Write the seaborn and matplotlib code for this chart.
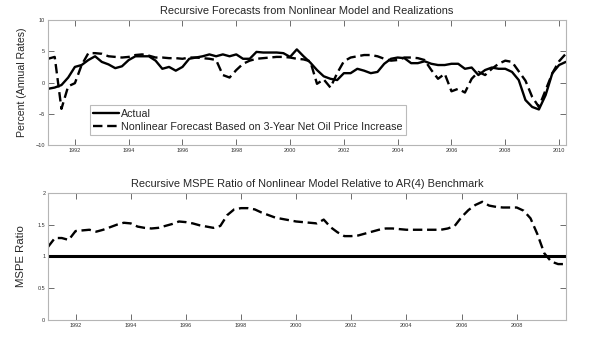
import numpy as np
import pandas as pd
import matplotlib
matplotlib.use("Agg")
import matplotlib.pyplot as plt
import seaborn as sns

# ---- data (quarterly) ----
top_start = 1991.0
actual = [
    -1.0, -0.8, -0.4, 0.8,
    2.5, 2.8, 3.6, 4.2,
    3.3, 2.9, 2.3, 2.6,
    3.6, 4.2, 4.2, 4.2,
    3.5, 2.2, 2.5, 1.9,
    2.5, 3.8, 4.0, 4.2,
    4.5, 4.2, 4.5, 4.2,
    4.5, 3.8, 3.8, 4.9,
    4.8, 4.8, 4.8, 4.7,
    4.1, 5.3, 4.2, 3.2,
    2.0, 1.0, 0.6, 0.4,
    1.5, 1.5, 2.2, 1.9,
    1.5, 1.7, 3.0, 3.8,
    4.0, 3.9, 3.1, 3.1,
    3.4, 3.0, 2.8, 2.8,
    3.0, 3.0, 2.2, 2.4,
    1.2, 2.0, 2.4, 2.2,
    2.2, 1.7, 0.4, -2.8,
    -3.9, -4.3, -2.0, 1.5,
    2.8, 3.3,
]
forecast = [
    3.8, 4.1, -4.2, -0.6,
    -0.1, 2.8, 4.7, 4.7,
    4.6, 4.2, 4.1, 4.0,
    4.1, 4.4, 4.5, 4.3,
    4.0, 4.0, 3.9, 3.9,
    3.8, 4.0, 4.0, 3.9,
    3.8, 3.6, 1.2, 0.8,
    2.0, 3.0, 3.5, 3.8,
    3.9, 4.0, 4.1, 4.1,
    4.0, 3.8, 3.7, 3.4,
    -0.2, 0.5, -0.8, 1.5,
    3.4, 4.0, 4.2, 4.4,
    4.4, 4.2, 3.8, 3.5,
    3.6, 4.0, 4.0, 3.9,
    3.6, 2.0, 0.6, 1.4,
    -1.4, -1.0, -1.6, 0.6,
    1.7, 1.2, 2.2, 3.0,
    3.5, 3.3, 1.8, 0.3,
    -2.3, -3.9, -1.2, 1.5,
    3.4, 4.6,
]
mspe_ratio = [
    1.15, 1.29, 1.29, 1.26,
    1.40, 1.41, 1.42, 1.39,
    1.42, 1.46, 1.50, 1.53,
    1.52, 1.47, 1.45, 1.44,
    1.45, 1.48, 1.51, 1.55,
    1.54, 1.52, 1.49, 1.47,
    1.45, 1.48, 1.65, 1.74,
    1.76, 1.76, 1.74, 1.69,
    1.65, 1.61, 1.59, 1.57,
    1.55, 1.54, 1.53, 1.52,
    1.58, 1.46, 1.38, 1.32,
    1.32, 1.33, 1.36, 1.39,
    1.42, 1.44, 1.44, 1.43,
    1.42, 1.42, 1.42, 1.42,
    1.42, 1.42, 1.44, 1.48,
    1.62, 1.73, 1.81, 1.86,
    1.80, 1.78, 1.77, 1.77,
    1.77, 1.72, 1.60, 1.35,
    1.05, 0.92, 0.88, 0.88,
]
benchmark = 1.0

top_xticks = list(range(1992, 2011, 2))
bot_xticks = list(range(1992, 2009, 2))
top_yticks = [-10, -5, 0, 5, 10]
bot_yticks = [0, 0.5, 1, 1.5, 2]

t_top = top_start + 0.25 * np.arange(len(actual))
t_bot = top_start + 0.25 * np.arange(len(mspe_ratio))

df_top = pd.DataFrame({"t": t_top, "actual": actual, "forecast": forecast})
df_bot = pd.DataFrame({"t": t_bot, "ratio": mspe_ratio})

sns.set_theme(style="white")
plt.rcParams["font.family"] = ["Liberation Sans", "DejaVu Sans"]

fig = plt.figure(figsize=(6.0, 3.39), dpi=100)
ax1 = fig.add_axes([0.08, 0.572, 0.863, 0.369])
ax2 = fig.add_axes([0.08, 0.056, 0.863, 0.375])

sns.lineplot(data=df_top, x="t", y="actual", ax=ax1, color="black", lw=1.7,
             label="Actual")
sns.lineplot(data=df_top, x="t", y="forecast", ax=ax1, color="black", lw=1.7,
             dashes=False, label="Nonlinear Forecast Based on 3-Year Net Oil Price Increase")
ax1.lines[1].set_dashes([4, 2])
ax1.set_xlim(1991.0, 2010.25)
ax1.set_ylim(-10, 10)
ax1.set_xticks(top_xticks)
ax1.set_yticks(top_yticks)
ax1.set_xlabel("")
ax1.set_ylabel("Percent (Annual Rates)", fontsize=7.6, labelpad=6)
ax1.set_title("Recursive Forecasts from Nonlinear Model and Realizations",
              fontsize=7.9, pad=4)
leg = ax1.legend(loc="lower left", bbox_to_anchor=(0.081, 0.08), fontsize=7.7,
                 frameon=True, fancybox=False, handlelength=2.4, handletextpad=0.2,
                 borderpad=0.3, labelspacing=0.3, borderaxespad=0)
leg.get_frame().set_edgecolor("#aaaaaa")
leg.get_frame().set_linewidth(0.8)
for h in leg.get_lines():
    h.set_linewidth(1.7)

sns.lineplot(data=df_bot, x="t", y="ratio", ax=ax2, color="black", lw=1.7)
ax2.lines[0].set_dashes([4, 2])
ax2.axhline(benchmark, color="black", lw=2.2)
ax2.set_xlim(1991.0, 2009.78)
ax2.set_ylim(0, 2)
ax2.set_xticks(bot_xticks)
ax2.set_yticks(bot_yticks)
ax2.set_yticklabels(["0", "0.5", "1", "1.5", "2"])
ax2.set_xlabel("")
ax2.set_ylabel("MSPE Ratio", fontsize=8.2, labelpad=8)
ax2.set_title("Recursive MSPE Ratio of Nonlinear Model Relative to AR(4) Benchmark",
              fontsize=7.9, pad=4)

for ax in (ax1, ax2):
    for s in ax.spines.values():
        s.set_color("#b5b5b5")
        s.set_linewidth(0.8)
    ax.tick_params(direction="in", length=4, width=0.6, color="#555555",
                   labelsize=4, labelcolor="#333333", top=True, right=True,
                   bottom=True, left=True, pad=2)

fig.savefig("out.png", dpi=100, facecolor="white")
